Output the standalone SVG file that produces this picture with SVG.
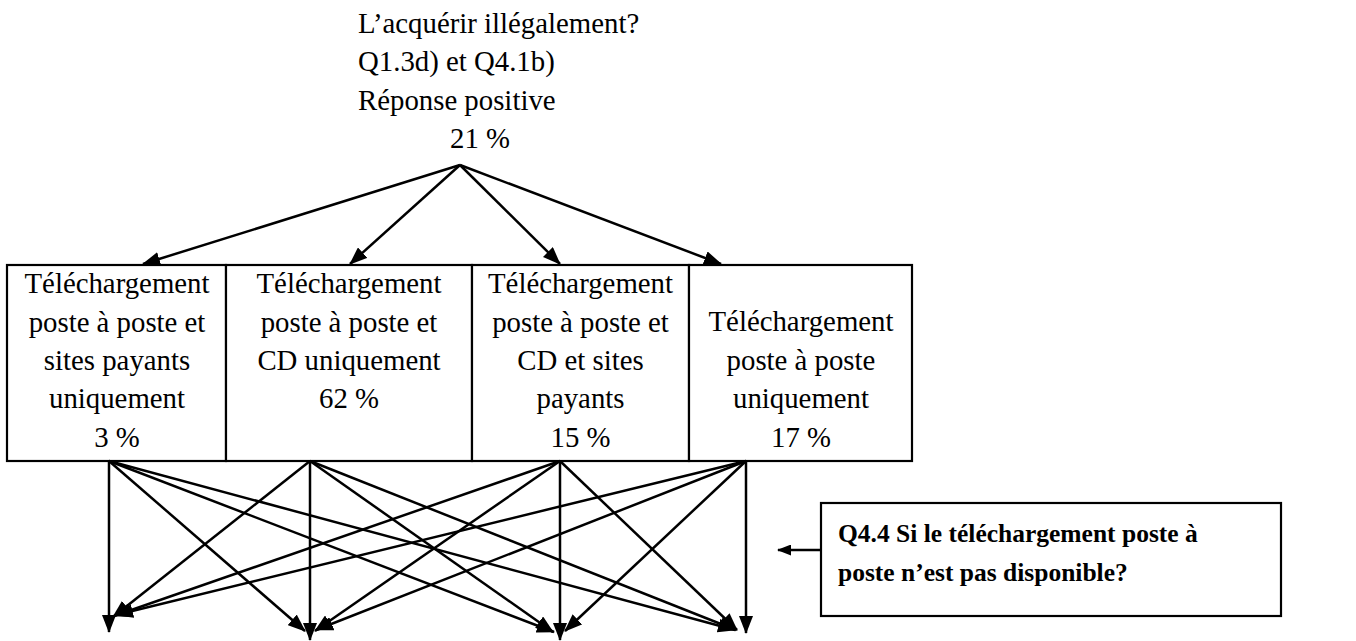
<svg xmlns="http://www.w3.org/2000/svg" width="1356" height="641" viewBox="0 0 1356 641">
  <style>
    .t { font-family: "Liberation Serif", "Times New Roman", serif; font-size: 28.8px; fill: #000; }
    .c { text-anchor: middle; }
    .b { font-family: "Liberation Serif", "Times New Roman", serif; font-size: 25.5px; font-weight: bold; fill: #000; }
    .box { fill: #fff; stroke: #000; stroke-width: 2.2; }
    .ln { stroke: #000; stroke-width: 2.5; fill: none; marker-end: url(#ah); }
    .sm { stroke: #000; stroke-width: 2.5; fill: none; marker-end: url(#ahs); }
  </style>
  <defs>
    <marker id="ah" viewBox="0 0 18 14" refX="17" refY="7" markerWidth="18" markerHeight="14" markerUnits="userSpaceOnUse" orient="auto">
      <path d="M0,0 L18,7 L0,14 Z" fill="#000"/>
    </marker>
    <marker id="ahs" viewBox="0 0 14 11" refX="13" refY="5.5" markerWidth="14" markerHeight="11" markerUnits="userSpaceOnUse" orient="auto">
      <path d="M0,0 L14,5.5 L0,11 Z" fill="#000"/>
    </marker>
  </defs>
  <rect width="1356" height="641" fill="#fff"/>

  <g id="root">
    <text class="t" x="358" y="33">L’acquérir illégalement?</text>
    <text class="t" x="358" y="71">Q1.3d) et Q4.1b)</text>
    <text class="t" x="358" y="110">Réponse positive</text>
    <text class="t" x="450" y="148">21 %</text>
  </g>

  <g id="box1">
    <rect class="box" x="7" y="265" width="219" height="196"/>
    <text class="t c" x="117" y="293">Téléchargement</text>
    <text class="t c" x="117" y="332">poste à poste et</text>
    <text class="t c" x="117" y="370">sites payants</text>
    <text class="t c" x="117" y="408">uniquement</text>
    <text class="t c" x="117" y="447">3 %</text>
  </g>
  <g id="box2">
    <rect class="box" x="226" y="265" width="246" height="196"/>
    <text class="t c" x="349" y="293">Téléchargement</text>
    <text class="t c" x="349" y="332">poste à poste et</text>
    <text class="t c" x="349" y="370">CD uniquement</text>
    <text class="t c" x="349" y="408">62 %</text>
  </g>
  <g id="box3">
    <rect class="box" x="472" y="265" width="217" height="196"/>
    <text class="t c" x="580.5" y="293">Téléchargement</text>
    <text class="t c" x="580.5" y="332">poste à poste et</text>
    <text class="t c" x="580.5" y="370">CD et sites</text>
    <text class="t c" x="580.5" y="408">payants</text>
    <text class="t c" x="580.5" y="447">15 %</text>
  </g>
  <g id="box4">
    <rect class="box" x="689" y="265" width="223" height="196"/>
    <text class="t c" x="801" y="331">Téléchargement</text>
    <text class="t c" x="801" y="370">poste à poste</text>
    <text class="t c" x="801" y="408">uniquement</text>
    <text class="t c" x="801" y="447">17 %</text>
  </g>

  <g id="question">
    <rect class="box" x="821" y="503" width="460" height="113"/>
    <text class="b" x="838" y="542">Q4.4 Si le téléchargement poste à</text>
    <text class="b" x="838" y="581">poste n’est pas disponible?</text>
  </g>

  <g id="connectors">
    <line class="ln" x1="460" y1="165" x2="143" y2="264"/>
    <line class="ln" x1="460" y1="165" x2="350" y2="264"/>
    <line class="ln" x1="460" y1="165" x2="560" y2="264"/>
    <line class="ln" x1="460" y1="165" x2="721" y2="264"/>

    <line class="ln" x1="109" y1="461" x2="109" y2="632"/>
    <line class="ln" x1="109" y1="461" x2="305" y2="631"/>
    <line class="ln" x1="109" y1="461" x2="554" y2="632"/>
    <line class="ln" x1="109" y1="461" x2="735" y2="630"/>

    <line class="ln" x1="310" y1="461" x2="113" y2="617"/>
    <line class="ln" x1="310" y1="461" x2="310" y2="640"/>
    <line class="ln" x1="310" y1="461" x2="553" y2="632"/>
    <line class="ln" x1="310" y1="461" x2="736" y2="630"/>

    <line class="ln" x1="560" y1="461" x2="114" y2="616"/>
    <line class="ln" x1="560" y1="461" x2="315" y2="631"/>
    <line class="ln" x1="560" y1="461" x2="560" y2="640"/>
    <line class="ln" x1="560" y1="461" x2="737" y2="630"/>

    <line class="ln" x1="746" y1="461" x2="116" y2="615"/>
    <line class="ln" x1="746" y1="461" x2="316" y2="630"/>
    <line class="ln" x1="746" y1="461" x2="565" y2="631"/>
    <line class="ln" x1="746" y1="461" x2="746" y2="633"/>

    <line class="sm" x1="821" y1="550" x2="778" y2="550"/>
  </g>
</svg>
